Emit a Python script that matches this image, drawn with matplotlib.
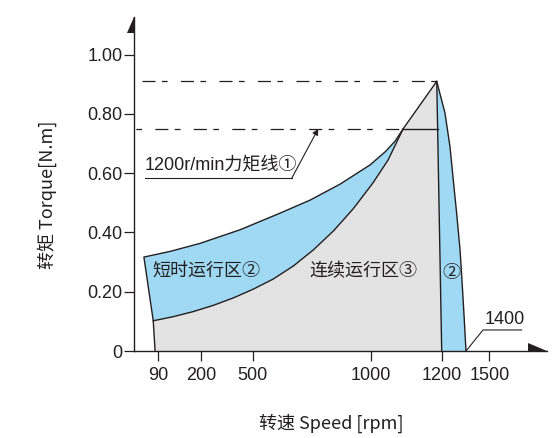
"""Torque / speed curve of a servo motor (continuous + short-term zones)."""

import numpy as np
import matplotlib
matplotlib.use('Agg')
import matplotlib.pyplot as plt
from matplotlib.patches import Polygon

plt.rcParams['lines.scale_dashes'] = False

# ─────────────────────────────────────────────────────────────────────────────
# DATA
# ─────────────────────────────────────────────────────────────────────────────

SPEED_TICKS   = [90, 200, 500, 1000, 1200, 1500]
SPEED_LABELS  = ['90', '200', '500', '1000', '1200', '1500']
TORQUE_TICKS  = [0, 0.2, 0.4, 0.6, 0.8, 1.0]
TORQUE_LABELS = ['0', '0.20', '0.40', '0.60', '0.80', '1.00']

# short-term limit (upper curve of the left blue zone)
short_speed  = [36, 120, 197, 426, 615, 742, 869, 996, 1040, 1068, 1091]
short_torque = [0.317, 0.336, 0.363, 0.409, 0.465, 0.509, 0.563, 0.628, 0.672, 0.708, 0.75]

# continuous limit (lower curve, edge of the grey zone)
cont_speed  = [78, 71, 129, 180, 271, 387, 503, 587, 672, 756, 841, 925, 1006, 1048, 1091]
cont_torque = [0, 0.102, 0.116, 0.133, 0.154, 0.179, 0.209, 0.243, 0.287, 0.341,
               0.405, 0.480, 0.568, 0.644, 0.75]

# peak torque point and the end of the continuous zone
peak_speed, peak_torque = 1186, 0.91
rated_torque = 0.75
rated_end_speed = [1189, 1200]      # speed at 0.75 N.m and at 0 N.m

# high-speed short-term edge (right blue zone)
edge_speed  = [1186, 1227, 1268, 1295, 1323, 1351, 1370, 1386, 1400]
edge_torque = [0.91, 0.803, 0.690, 0.578, 0.465, 0.341, 0.217, 0.105, 0]

# drawn speed axis is not linear: where each speed sits (px from the y axis)
SCALE_RPM = [0, 90, 200, 500, 1000, 1200, 1400, 1500, 1750]
SCALE_POS = [0, 24, 66.7, 118.4, 236.7, 307.4, 331.7, 355, 412.4]

INK   = '#231f20'
BLUE  = '#9fd9f3'
GREY  = '#e3e3e3'
LATIN = ['Liberation Sans', 'Noto Sans CJK SC']
CJK   = ['Noto Sans CJK SC', 'DejaVu Sans']


def fwd(x):
    return np.interp(x, SCALE_RPM, SCALE_POS)


def inv(x):
    return np.interp(x, SCALE_POS, SCALE_RPM)


fig = plt.figure(figsize=(5.52, 4.38), dpi=100)
ax = fig.add_axes([0.2433, 0.1986, 0.7471, 0.7632])
ax.set_xscale('function', functions=(fwd, inv))
ax.set_xlim(0, 1750)
ax.set_ylim(0, 1.128)

# ── zones ────────────────────────────────────────────────────────────────────
grey_pts = list(zip(cont_speed, cont_torque)) + [(peak_speed, peak_torque), (rated_end_speed[1], 0)]
ax.add_patch(Polygon(grey_pts, closed=True, fc=GREY, ec='none', zorder=1))

left_pts = list(zip(short_speed, short_torque)) + list(zip(cont_speed[1:], cont_torque[1:]))[::-1]
ax.add_patch(Polygon(left_pts, closed=True, fc=BLUE, ec='none', zorder=1))

right_pts = list(zip(edge_speed, edge_torque)) + [(rated_end_speed[1], 0)]
ax.add_patch(Polygon(right_pts, closed=True, fc=BLUE, ec='none', zorder=1))

# ── outlines ─────────────────────────────────────────────────────────────────
lw = 1.0
ax.plot(cont_speed + [peak_speed, rated_end_speed[1]],
        cont_torque + [peak_torque, 0], color=INK, lw=lw, zorder=3,
        solid_joinstyle='round')
ax.plot([cont_speed[1]] + short_speed, [cont_torque[1]] + short_torque,
        color=INK, lw=lw, zorder=3, solid_joinstyle='round')
ax.plot(edge_speed, edge_torque, color=INK, lw=lw, zorder=3, solid_joinstyle='round')
ax.plot([short_speed[-1], rated_end_speed[0]], [rated_torque, rated_torque],
        color=INK, lw=lw, zorder=3)

# dash-dot guide lines for peak and rated torque
ax.plot([28, peak_speed], [peak_torque, peak_torque], color=INK, lw=0.9,
        ls=(0, (9.4, 4.6, 4.1, 9.6)), zorder=2)
ax.plot([0, short_speed[-1]], [rated_torque, rated_torque], color=INK, lw=0.9,
        ls=(12.7, (9.4, 4.6, 4.1, 9.6)), zorder=2)

# ── labels inside the plot ───────────────────────────────────────────────────
ax.text(40, 0.625, '1200r/min力矩线①', fontsize=13, family=LATIN, color=INK,
        ha='left', va='center', zorder=4)
ax.plot([40, 665], [0.583, 0.583], color=INK, lw=0.8, zorder=4)
ax.annotate('', xy=(777, 0.75), xytext=(665, 0.583),
            arrowprops=dict(arrowstyle='-|>', color=INK, lw=0.8,
                            mutation_scale=9, shrinkA=0, shrinkB=0), zorder=4)

ax.text(69, 0.27, '短时运行区②', fontsize=13, family=CJK, color=INK,
        ha='left', va='center', zorder=4)
ax.text(739, 0.27, '连续运行区③', fontsize=13, family=CJK, color=INK,
        ha='left', va='center', zorder=4)
ax.text(1282, 0.263, '②', fontsize=13, family=CJK, color=INK,
        ha='center', va='center', zorder=4)

ax.text(1482, 0.105, '1400', fontsize=13, family=LATIN, color=INK,
        ha='left', va='center', zorder=4)
ax.plot([1400, 1473, 1641], [0, 0.071, 0.071], color=INK, lw=0.8, zorder=4, clip_on=False)

# ── axes ─────────────────────────────────────────────────────────────────────
for side in ['top', 'right']:
    ax.spines[side].set_visible(False)
for side in ['left', 'bottom']:
    ax.spines[side].set_color(INK)
    ax.spines[side].set_linewidth(1.0)

ax.set_xticks(SPEED_TICKS)
ax.set_xticklabels(SPEED_LABELS, fontsize=13, family=LATIN, color=INK)
ax.set_yticks(TORQUE_TICKS)
ax.set_yticklabels(TORQUE_LABELS, fontsize=13, family=LATIN, color=INK)
ax.xaxis.set_minor_locator(matplotlib.ticker.NullLocator())
ax.tick_params(axis='x', direction='out', length=7, width=0.9, color=INK, pad=4.5)
ax.tick_params(axis='y', direction='out', length=7, width=0.9, color=INK, pad=1.5)

# half arrow heads at the end of each axis
ax.add_patch(Polygon([(0, 1), (0, 0.95), (-0.0184, 0.95)], closed=True,
                     transform=ax.transAxes, fc=INK, ec='none', clip_on=False))
ax.add_patch(Polygon([(1, 0), (0.9547, 0), (0.9547, 0.023)], closed=True,
                     transform=ax.transAxes, fc=INK, ec='none', clip_on=False))

fig.text(0.0846, 0.555, '转矩 Torque[N.m]', rotation=90, fontsize=13, family=CJK,
         color=INK, ha='center', va='center')
fig.text(0.6005, 0.0342, '转速 Speed [rpm]', fontsize=13, family=CJK,
         color=INK, ha='center', va='center')

fig.savefig('out.png', dpi=100)
